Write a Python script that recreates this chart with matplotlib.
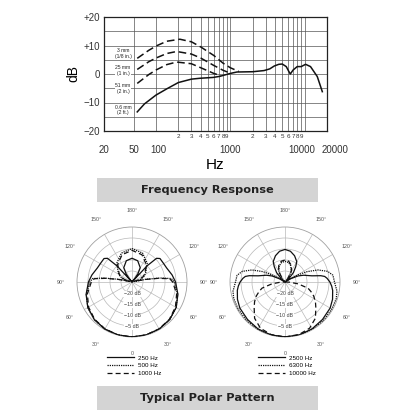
import numpy as np
import matplotlib
matplotlib.use('Agg')
import matplotlib.pyplot as plt
import matplotlib.transforms as mtransforms
from matplotlib.patches import Rectangle

# ---------------- Frequency response data ----------------
f_06m = [56, 70, 100, 140, 200, 300, 390, 590, 730, 1000, 1230, 2000, 2840, 3400, 3900,
         4500, 5000, 5660, 6100, 6420, 7000, 7950, 9000, 10300, 12000, 14800, 17300]
db_06m = [-13.3, -10.5, -7.4, -5.2, -3.0, -1.8, -1.5, -1.2, -0.8, 0.2, 0.7, 0.8, 1.2, 1.8, 2.8,
          3.4, 3.5, 2.6, 1.0, 0.0, 1.4, 2.6, 2.6, 3.4, 2.6, -0.9, -6.2]
f_3mm = [56, 80, 100, 140, 210, 300, 400, 600, 800, 1000, 1300]
db_3mm = [5.5, 8.3, 9.8, 11.5, 12.2, 11.3, 9.5, 6.5, 3.8, 2.2, 0.9]
f_25mm = [56, 80, 100, 140, 190, 300, 400, 600, 800, 1000]
db_25mm = [1.6, 4.3, 5.6, 7.2, 7.9, 7.0, 5.6, 3.0, 1.3, 0.3]
f_51mm = [56, 80, 100, 140, 190, 300, 400, 600, 750]
db_51mm = [-3.3, -0.2, 1.4, 3.3, 4.2, 3.6, 2.2, 0.2, -0.6]

curve_labels = ['3 mm\n(1/8 in.)', '25 mm\n(1 in.)', '51 mm\n(2 in.)', '0.6 mm\n(2 ft.)']
curve_label_db = [7.3, 1.1, -5.0, -12.6]

y_ticks = [-20, -10, 0, 10, 20]
y_tick_labels = ['\u221220', '\u221210', '0', '+10', '+20']
x_major = [20, 50, 100, 1000, 10000, 20000]
x_major_labels = ['20', '50', '100', '1000', '10000', '20000']
x_minor = [200, 300, 400, 500, 600, 700, 800, 900,
           2000, 3000, 4000, 5000, 6000, 7000, 8000, 9000]
x_minor_labels = ['2', '3', '4', '5', '6', '7', '8', '9'] * 2

# ---------------- Polar pattern data (dB, angle from front) ----------------
ang_250 = [0, 15, 30, 45, 60, 75, 90, 100, 112, 122, 130, 134, 137, 139, 141, 144, 150, 165, 180]
db_250 = [0, -0.1, -0.3, -0.8, -1.8, -3.4, -5.2, -6.5, -8.0, -8.4, -8.4, -9.5, -15.0, -25.0,
          -23.0, -20.5, -17.5, -15.0, -14.2]
ang_500 = [0, 15, 30, 45, 60, 75, 90, 95, 98, 101, 104, 108, 115, 123, 141, 160, 180]
db_500 = [0, -0.1, -0.3, -0.8, -1.8, -3.5, -5.8, -7.0, -12.0, -18.5, -24.0, -21.0, -19.0,
          -17.6, -14.0, -11.0, -9.8]
ang_1000 = [0, 15, 30, 45, 60, 75, 90, 95, 98, 101, 104, 108, 115, 123, 141, 160, 180]
db_1000 = [0, -0.1, -0.4, -1.0, -2.2, -4.0, -6.5, -7.8, -13.0, -19.0, -24.0, -21.5, -19.5,
           -18.0, -14.7, -11.8, -10.6]
ang_2500 = [0, 15, 30, 45, 60, 70, 80, 85, 90, 95, 98, 100, 103, 110, 115, 120, 125, 130,
            138, 145, 150, 160, 170, 180]
db_2500 = [0, -0.1, -0.4, -0.9, -1.3, -2.0, -3.0, -3.7, -4.6, -5.8, -6.8, -8.5, -12.5, -16.0,
           -18.5, -22.0, -24.5, -23.0, -19.3, -16.5, -14.3, -12.3, -10.8, -10.2]
ang_6300 = [0, 15, 30, 45, 60, 72, 80, 90, 98, 104, 110, 115, 119, 125, 130, 140, 150, 160, 170, 180]
db_6300 = [0, 0, -0.2, -0.3, -0.4, -0.5, -1.0, -2.5, -3.0, -5.0, -9.0, -13.8, -18.2, -22.5,
           -25.0, -22.0, -19.5, -17.2, -16.0, -15.6]
ang_10000 = [0, 15, 28, 40, 50, 57, 64, 70, 75, 82, 88, 95, 120, 135, 140, 150, 160, 170, 180]
db_10000 = [0, -0.3, -1.2, -3.5, -6.7, -8.5, -10.5, -12.5, -14.2, -19.0, -23.0, -25.0, -25.0,
            -24.0, -23.0, -19.0, -16.8, -15.4, -15.0]

ring_levels = [-20, -15, -10, -5]
theta_grid = list(range(0, 360, 30))
theta_labels = ['0', '30\u00b0', '60\u00b0', '90\u00b0', '120\u00b0', '150\u00b0', '180\u00b0',
                '150\u00b0', '120\u00b0', '90\u00b0', '60\u00b0', '30\u00b0']

left_names = ['250 Hz', '500 Hz', '1000 Hz']
right_names = ['2500 Hz', '6300 Hz', '10000 Hz']

banner_titles = ['Frequency Response', 'Typical Polar Pattern']

# ---------------- Figure ----------------
plt.rcParams['font.family'] = ['Liberation Sans', 'DejaVu Sans']
W = H = 416
fig = plt.figure(figsize=(4.16, 4.16), dpi=100)
fig.patch.set_facecolor('white')


def fx(px):
    return px / W


def fy(py):
    return 1 - py / H


# Frequency response axes
ax = fig.add_axes([fx(104), fy(131), fx(327) - fx(104), fy(17) - fy(131)])
ax.set_xscale('log')
ax.set_xlim(20, 20000)
ax.set_ylim(-20, 20)
ax.set_yticks(y_ticks)
ax.set_yticklabels(y_tick_labels, fontsize=7, color='#333333')
ax.set_yticks(np.arange(-20, 21, 5), minor=True)
ax.set_xticks(x_major)
ax.set_xticklabels(x_major_labels, fontsize=7, color='#333333')
ax.set_xticks(x_minor, minor=True)
ax.set_xticklabels(x_minor_labels, minor=True, fontsize=4.5, color='#333333')
ax.tick_params(axis='both', which='both', length=0)
ax.tick_params(axis='x', which='major', pad=10)
ax.tick_params(axis='x', which='minor', pad=2)
ax.tick_params(axis='y', which='major', pad=3)
ax.grid(True, which='both', color='#555555', lw=0.5)
for s in ax.spines.values():
    s.set_color('#222222')
    s.set_linewidth(0.9)
ax.set_ylabel('dB', fontsize=10, labelpad=2)
ax.set_xlabel('Hz', fontsize=11, labelpad=2)

# small horizontal nudges of crowded major labels (pixels)
label_shift = {'100': 2, '10000': -3, '20000': 8}
for lbl, txt in zip(ax.get_xticklabels(), x_major_labels):
    if txt in label_shift:
        off = mtransforms.ScaledTranslation(label_shift[txt] / 100.0, 0, fig.dpi_scale_trans)
        lbl.set_transform(lbl.get_transform() + off)

dash = (0, (5, 2.5))
ax.plot(f_3mm, db_3mm, color='#111111', lw=1.1, linestyle=dash)
ax.plot(f_25mm, db_25mm, color='#111111', lw=1.1, linestyle=dash)
ax.plot(f_51mm, db_51mm, color='#111111', lw=1.1, linestyle=dash)
ax.plot(f_06m, db_06m, color='#111111', lw=1.1)
for lab, yv in zip(curve_labels, curve_label_db):
    ax.text(36, yv, lab, fontsize=3.6, ha='center', va='center', color='#222222',
            linespacing=1.2,
            bbox=dict(boxstyle='square,pad=0.15', fc='white', ec='none'))

# Banners
for title, (y0, y1) in zip(banner_titles, [(178, 202), (386, 410)]):
    fig.patches.append(Rectangle((fx(97), fy(y1)), fx(318) - fx(97), fy(y0) - fy(y1),
                                 transform=fig.transFigure, facecolor='#d4d4d4',
                                 edgecolor='none'))
    fig.text(fx(207.5), fy((y0 + y1) / 2), title, ha='center', va='center',
             fontsize=8.2, fontweight='bold', family='DejaVu Sans', color='#222222')


def mirror(a, d):
    a = np.asarray(a, float)
    d = np.asarray(d, float)
    th = np.deg2rad(np.concatenate([a, 360 - a[::-1]]))
    rr = np.concatenate([d, d[::-1]])
    return th, rr


def make_polar(cx, cy, R, series, names, leg_x):
    pax = fig.add_axes([fx(cx - R), fy(cy + R), 2 * R / W, 2 * R / H], projection='polar')
    pax.set_theta_zero_location('S')
    pax.set_ylim(-25, 0)
    pax.set_rgrids(ring_levels, labels=[''] * len(ring_levels))
    pax.set_thetagrids(theta_grid, theta_labels, fontsize=3.8, color='#555555')
    pax.tick_params(axis='x', pad=1.5)
    pax.grid(True, color='#b8b8b8', lw=0.5)
    pax.spines['polar'].set_color('#a0a0a0')
    pax.spines['polar'].set_linewidth(0.6)
    for lv in ring_levels:
        pax.text(0, lv + 0.4, '\u2212%d dB' % (-lv), fontsize=3.8, ha='center', va='center',
                 color='#444444', zorder=3,
                 bbox=dict(boxstyle='square,pad=0.1', fc='white', ec='none'))
    styles = ['-', (0, (1, 0.8)), (0, (4, 2.5))]
    handles = []
    for (a, d), st in zip(series, styles):
        th, rr = mirror(a, d)
        ln, = pax.plot(th, rr, color='#111111', lw=0.9, linestyle=st, zorder=4)
        handles.append(ln)
    pax.legend(handles, names, loc='upper left', bbox_to_anchor=(fx(leg_x), fy(352)),
               bbox_transform=fig.transFigure, frameon=False, fontsize=4.5,
               handlelength=4.3, handletextpad=0.6, labelspacing=0.4, borderpad=0)
    return pax


make_polar(132, 282, 55, [(ang_250, db_250), (ang_500, db_500), (ang_1000, db_1000)],
           left_names, 104)
make_polar(285, 282, 55, [(ang_2500, db_2500), (ang_6300, db_6300), (ang_10000, db_10000)],
           right_names, 255)

fig.savefig('out.png', dpi=100, facecolor='white')
